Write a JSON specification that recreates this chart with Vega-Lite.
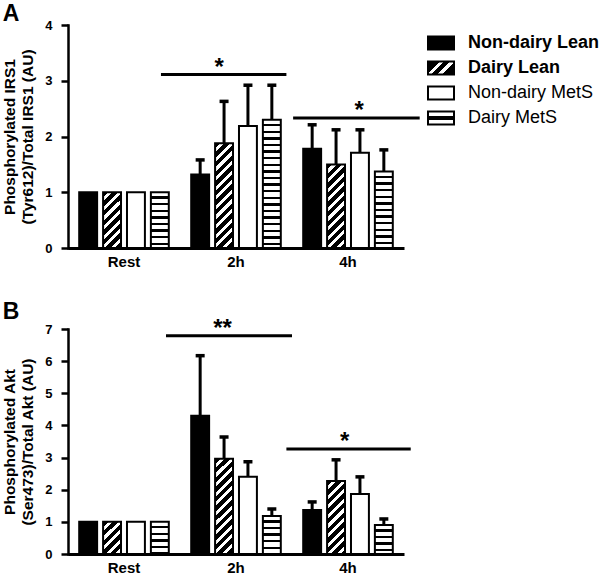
{
  "$schema": "https://vega.github.io/schema/vega-lite/v6.json",
  "padding": {"left": 2, "top": 3, "right": 0, "bottom": 0},
  "params": [
    {"name": "diagStops", "value": [
      {"offset":0,"color":"black"},{"offset":0.034,"color":"black"},{"offset":0.034,"color":"white"},{"offset":0.06,"color":"white"},
      {"offset":0.06,"color":"black"},{"offset":0.094,"color":"black"},{"offset":0.094,"color":"white"},{"offset":0.12,"color":"white"},
      {"offset":0.12,"color":"black"},{"offset":0.154,"color":"black"},{"offset":0.154,"color":"white"},{"offset":0.18,"color":"white"},
      {"offset":0.18,"color":"black"},{"offset":0.214,"color":"black"},{"offset":0.214,"color":"white"},{"offset":0.24,"color":"white"},
      {"offset":0.24,"color":"black"},{"offset":0.274,"color":"black"},{"offset":0.274,"color":"white"},{"offset":0.3,"color":"white"},
      {"offset":0.3,"color":"black"},{"offset":0.334,"color":"black"},{"offset":0.334,"color":"white"},{"offset":0.36,"color":"white"},
      {"offset":0.36,"color":"black"},{"offset":0.394,"color":"black"},{"offset":0.394,"color":"white"},{"offset":0.42,"color":"white"},
      {"offset":0.42,"color":"black"},{"offset":0.454,"color":"black"},{"offset":0.454,"color":"white"},{"offset":0.48,"color":"white"},
      {"offset":0.48,"color":"black"},{"offset":0.514,"color":"black"},{"offset":0.514,"color":"white"},{"offset":0.54,"color":"white"},
      {"offset":0.54,"color":"black"},{"offset":0.574,"color":"black"},{"offset":0.574,"color":"white"},{"offset":0.6,"color":"white"},
      {"offset":0.6,"color":"black"},{"offset":0.634,"color":"black"},{"offset":0.634,"color":"white"},{"offset":0.66,"color":"white"},
      {"offset":0.66,"color":"black"},{"offset":0.694,"color":"black"},{"offset":0.694,"color":"white"},{"offset":0.72,"color":"white"},
      {"offset":0.72,"color":"black"},{"offset":0.754,"color":"black"},{"offset":0.754,"color":"white"},{"offset":0.78,"color":"white"},
      {"offset":0.78,"color":"black"},{"offset":0.814,"color":"black"},{"offset":0.814,"color":"white"},{"offset":0.84,"color":"white"},
      {"offset":0.84,"color":"black"},{"offset":0.874,"color":"black"},{"offset":0.874,"color":"white"},{"offset":0.9,"color":"white"},
      {"offset":0.9,"color":"black"},{"offset":0.934,"color":"black"},{"offset":0.934,"color":"white"},{"offset":0.96,"color":"white"},
      {"offset":0.96,"color":"black"},{"offset":0.994,"color":"black"},{"offset":0.994,"color":"white"},{"offset":1,"color":"white"}
    ]},
    {"name": "horizStops", "value": [
      {"offset":0,"color":"white"},{"offset":0.032,"color":"white"},{"offset":0.032,"color":"black"},{"offset":0.05,"color":"black"},
      {"offset":0.05,"color":"white"},{"offset":0.082,"color":"white"},{"offset":0.082,"color":"black"},{"offset":0.1,"color":"black"},
      {"offset":0.1,"color":"white"},{"offset":0.132,"color":"white"},{"offset":0.132,"color":"black"},{"offset":0.15,"color":"black"},
      {"offset":0.15,"color":"white"},{"offset":0.182,"color":"white"},{"offset":0.182,"color":"black"},{"offset":0.2,"color":"black"},
      {"offset":0.2,"color":"white"},{"offset":0.232,"color":"white"},{"offset":0.232,"color":"black"},{"offset":0.25,"color":"black"},
      {"offset":0.25,"color":"white"},{"offset":0.282,"color":"white"},{"offset":0.282,"color":"black"},{"offset":0.3,"color":"black"},
      {"offset":0.3,"color":"white"},{"offset":0.332,"color":"white"},{"offset":0.332,"color":"black"},{"offset":0.35,"color":"black"},
      {"offset":0.35,"color":"white"},{"offset":0.382,"color":"white"},{"offset":0.382,"color":"black"},{"offset":0.4,"color":"black"},
      {"offset":0.4,"color":"white"},{"offset":0.432,"color":"white"},{"offset":0.432,"color":"black"},{"offset":0.45,"color":"black"},
      {"offset":0.45,"color":"white"},{"offset":0.482,"color":"white"},{"offset":0.482,"color":"black"},{"offset":0.5,"color":"black"},
      {"offset":0.5,"color":"white"},{"offset":0.532,"color":"white"},{"offset":0.532,"color":"black"},{"offset":0.55,"color":"black"},
      {"offset":0.55,"color":"white"},{"offset":0.582,"color":"white"},{"offset":0.582,"color":"black"},{"offset":0.6,"color":"black"},
      {"offset":0.6,"color":"white"},{"offset":0.632,"color":"white"},{"offset":0.632,"color":"black"},{"offset":0.65,"color":"black"},
      {"offset":0.65,"color":"white"},{"offset":0.682,"color":"white"},{"offset":0.682,"color":"black"},{"offset":0.7,"color":"black"},
      {"offset":0.7,"color":"white"},{"offset":0.732,"color":"white"},{"offset":0.732,"color":"black"},{"offset":0.75,"color":"black"},
      {"offset":0.75,"color":"white"},{"offset":0.782,"color":"white"},{"offset":0.782,"color":"black"},{"offset":0.8,"color":"black"},
      {"offset":0.8,"color":"white"},{"offset":0.832,"color":"white"},{"offset":0.832,"color":"black"},{"offset":0.85,"color":"black"},
      {"offset":0.85,"color":"white"},{"offset":0.882,"color":"white"},{"offset":0.882,"color":"black"},{"offset":0.9,"color":"black"},
      {"offset":0.9,"color":"white"},{"offset":0.932,"color":"white"},{"offset":0.932,"color":"black"},{"offset":0.95,"color":"black"},
      {"offset":0.95,"color":"white"},{"offset":0.982,"color":"white"},{"offset":0.982,"color":"black"},{"offset":1,"color":"black"}
    ]},
    {"name": "legDiag", "value": [
      {"offset":0,"color":"black"},{"offset":0.3,"color":"black"},{"offset":0.3,"color":"white"},{"offset":0.42,"color":"white"},
      {"offset":0.42,"color":"black"},{"offset":0.56,"color":"black"},{"offset":0.56,"color":"white"},{"offset":0.68,"color":"white"},
      {"offset":0.68,"color":"black"},{"offset":1,"color":"black"}
    ]},
    {"name": "legHoriz", "value": [
      {"offset":0,"color":"white"},{"offset":0.38,"color":"white"},{"offset":0.38,"color":"black"},{"offset":0.62,"color":"black"},
      {"offset":0.62,"color":"white"},{"offset":1,"color":"white"}
    ]}
  ],
  "datasets": {
    "irs1": [
      {"time":"Rest","group":"Non-dairy Lean","value":1.0,"upper":null},
      {"time":"Rest","group":"Dairy Lean","value":1.0,"upper":null},
      {"time":"Rest","group":"Non-dairy MetS","value":1.0,"upper":null},
      {"time":"Rest","group":"Dairy MetS","value":1.0,"upper":null},
      {"time":"2h","group":"Non-dairy Lean","value":1.32,"upper":1.58},
      {"time":"2h","group":"Dairy Lean","value":1.88,"upper":2.63},
      {"time":"2h","group":"Non-dairy MetS","value":2.19,"upper":2.92},
      {"time":"2h","group":"Dairy MetS","value":2.30,"upper":2.92},
      {"time":"4h","group":"Non-dairy Lean","value":1.78,"upper":2.21},
      {"time":"4h","group":"Dairy Lean","value":1.50,"upper":2.12},
      {"time":"4h","group":"Non-dairy MetS","value":1.71,"upper":2.12},
      {"time":"4h","group":"Dairy MetS","value":1.37,"upper":1.76}
    ],
    "akt": [
      {"time":"Rest","group":"Non-dairy Lean","value":1.0,"upper":null},
      {"time":"Rest","group":"Dairy Lean","value":1.0,"upper":null},
      {"time":"Rest","group":"Non-dairy MetS","value":1.0,"upper":null},
      {"time":"Rest","group":"Dairy MetS","value":1.0,"upper":null},
      {"time":"2h","group":"Non-dairy Lean","value":4.30,"upper":6.17},
      {"time":"2h","group":"Dairy Lean","value":2.96,"upper":3.64},
      {"time":"2h","group":"Non-dairy MetS","value":2.40,"upper":2.87},
      {"time":"2h","group":"Dairy MetS","value":1.18,"upper":1.40},
      {"time":"4h","group":"Non-dairy Lean","value":1.37,"upper":1.62},
      {"time":"4h","group":"Dairy Lean","value":2.27,"upper":2.93},
      {"time":"4h","group":"Non-dairy MetS","value":1.87,"upper":2.40},
      {"time":"4h","group":"Dairy MetS","value":0.90,"upper":1.09}
    ],
    "sigA": [
      {"x1":0.83,"x2":1.95,"xs":1.35,"y":3.11,"label":"*"},
      {"x1":2.01,"x2":3.14,"xs":2.60,"y":2.33,"label":"*"}
    ],
    "sigB": [
      {"x1":0.875,"x2":2.0,"xs":1.38,"y":6.79,"label":"**"},
      {"x1":1.95,"x2":3.06,"xs":2.47,"y":3.27,"label":"*"}
    ]
  },
  "spacing": 31,
  "vconcat": [
    {
      "title": {"text": "A", "anchor": "start", "frame": "bounds", "fontSize": 23, "fontWeight": "bold", "offset": -7, "color": "black"},
      "width": 336, "height": 223,
      "resolve": {"scale": {"x": "independent"}},
      "layer": [
        {
          "data": {"name": "irs1"},
          "encoding": {
            "x": {"field": "time", "type": "nominal", "title": null, "scale": {"domain": ["Rest","2h","4h"], "paddingInner": 0.2, "paddingOuter": 0.1}},
            "xOffset": {"field": "group", "type": "nominal", "scale": {"domain": ["Non-dairy Lean","Dairy Lean","Non-dairy MetS","Dairy MetS"], "paddingInner": 0.25, "paddingOuter": 0}},
            "y": {"field": "value", "type": "quantitative", "scale": {"domain": [0,4]}, "axis": {"title": ["Phosphorylated IRS1","(Tyr612)/Total IRS1 (AU)"], "values": [0,1,2,3,4]}}
          },
          "layer": [
            {
              "mark": {"type": "bar", "strokeWidth": 2},
              "encoding": {
                "stroke": {"field": "group", "type": "nominal",
                  "scale": {"domain": ["Non-dairy Lean","Dairy Lean","Non-dairy MetS","Dairy MetS"], "range": ["black","black","black","black"]},
                  "legend": {"title": null, "offset": 1,
                    "labelFontWeight": {"expr": "indexof(datum.label, 'Lean') >= 0 ? 'bold' : 'normal'"}}},
                "fill": {"value": {"expr": "(datum.group || datum.value) === 'Non-dairy Lean' ? 'black' : (datum.group || datum.value) === 'Non-dairy MetS' ? 'white' : (datum.group || datum.value) === 'Dairy Lean' ? (datum.group ? {gradient: 'linear', x1: 0, y1: 0, x2: 160 * 17.9 / (320.41 + pow(datum.value * 55.75, 2)), y2: 160 * datum.value * 55.75 / (320.41 + pow(datum.value * 55.75, 2)), stops: diagStops} : {gradient: 'linear', x1: 0, y1: 0, x2: 1.2, y2: 0.6, stops: legDiag}) : (datum.group ? {gradient: 'linear', x1: 0, y1: 0, x2: 0, y2: 132 / (datum.value * 55.75), stops: horizStops} : {gradient: 'linear', x1: 0, y1: 0, x2: 0, y2: 1, stops: legHoriz})"}}
              }
            },
            {
              "transform": [{"filter": "datum.upper != null"}],
              "mark": {"type": "rule", "strokeWidth": 3, "color": "black"},
              "encoding": {"y2": {"field": "upper"}}
            },
            {
              "transform": [{"filter": "datum.upper != null"}],
              "mark": {"type": "tick", "thickness": 3.5, "size": 9, "color": "black", "opacity": 1},
              "encoding": {"y": {"field": "upper", "type": "quantitative", "scale": {"domain": [0,4]}, "axis": {"title": ["Phosphorylated IRS1","(Tyr612)/Total IRS1 (AU)"], "values": [0,1,2,3,4]}}}
            }
          ]
        },
        {
          "data": {"name": "sigA"},
          "layer": [
            {
              "mark": {"type": "rule", "strokeWidth": 3, "color": "black"},
              "encoding": {
                "x": {"field": "x1", "type": "quantitative", "scale": {"domain": [0,3]}, "axis": null},
                "x2": {"field": "x2"},
                "y": {"field": "y", "type": "quantitative", "scale": {"domain": [0,4]}, "axis": {"title": ["Phosphorylated IRS1","(Tyr612)/Total IRS1 (AU)"], "values": [0,1,2,3,4]}}
              }
            },
            {
              "mark": {"type": "text", "fontSize": 24, "fontWeight": "bold", "baseline": "alphabetic", "dy": 0, "color": "black"},
              "encoding": {
                "x": {"field": "xs", "type": "quantitative", "scale": {"domain": [0,3]}, "axis": null},
                "y": {"field": "y", "type": "quantitative", "scale": {"domain": [0,4]}, "axis": {"title": ["Phosphorylated IRS1","(Tyr612)/Total IRS1 (AU)"], "values": [0,1,2,3,4]}},
                "text": {"field": "label"}
              }
            }
          ]
        }
      ]
    },
    {
      "title": {"text": "B", "anchor": "start", "frame": "bounds", "fontSize": 23, "fontWeight": "bold", "offset": -7, "color": "black"},
      "width": 336, "height": 225,
      "resolve": {"scale": {"x": "independent"}},
      "layer": [
        {
          "data": {"name": "akt"},
          "encoding": {
            "x": {"field": "time", "type": "nominal", "title": null, "scale": {"domain": ["Rest","2h","4h"], "paddingInner": 0.2, "paddingOuter": 0.1}},
            "xOffset": {"field": "group", "type": "nominal", "scale": {"domain": ["Non-dairy Lean","Dairy Lean","Non-dairy MetS","Dairy MetS"], "paddingInner": 0.25, "paddingOuter": 0}},
            "y": {"field": "value", "type": "quantitative", "scale": {"domain": [0,7]}, "axis": {"title": ["Phosphorylated Akt","(Ser473)/Total Akt (AU)"], "values": [0,1,2,3,4,5,6,7]}}
          },
          "layer": [
            {
              "mark": {"type": "bar", "strokeWidth": 2},
              "encoding": {
                "stroke": {"field": "group", "type": "nominal",
                  "scale": {"domain": ["Non-dairy Lean","Dairy Lean","Non-dairy MetS","Dairy MetS"], "range": ["black","black","black","black"]},
                  "legend": {"title": null, "offset": 10,
                    "labelFontWeight": {"expr": "indexof(datum.label, 'Lean') >= 0 ? 'bold' : 'normal'"}}},
                "fill": {"value": {"expr": "(datum.group || datum.value) === 'Non-dairy Lean' ? 'black' : (datum.group || datum.value) === 'Non-dairy MetS' ? 'white' : (datum.group || datum.value) === 'Dairy Lean' ? (datum.group ? {gradient: 'linear', x1: 0, y1: 0, x2: 160 * 17.9 / (320.41 + pow(datum.value * 32.14, 2)), y2: 160 * datum.value * 32.14 / (320.41 + pow(datum.value * 32.14, 2)), stops: diagStops} : {gradient: 'linear', x1: 0, y1: 0, x2: 1.2, y2: 0.6, stops: legDiag}) : (datum.group ? {gradient: 'linear', x1: 0, y1: 0, x2: 0, y2: 132 / (datum.value * 32.14), stops: horizStops} : {gradient: 'linear', x1: 0, y1: 0, x2: 0, y2: 1, stops: legHoriz})"}}
              }
            },
            {
              "transform": [{"filter": "datum.upper != null"}],
              "mark": {"type": "rule", "strokeWidth": 3, "color": "black"},
              "encoding": {"y2": {"field": "upper"}}
            },
            {
              "transform": [{"filter": "datum.upper != null"}],
              "mark": {"type": "tick", "thickness": 3.5, "size": 9, "color": "black", "opacity": 1},
              "encoding": {"y": {"field": "upper", "type": "quantitative", "scale": {"domain": [0,7]}, "axis": {"title": ["Phosphorylated Akt","(Ser473)/Total Akt (AU)"], "values": [0,1,2,3,4,5,6,7]}}}
            }
          ]
        },
        {
          "data": {"name": "sigB"},
          "layer": [
            {
              "mark": {"type": "rule", "strokeWidth": 3, "color": "black"},
              "encoding": {
                "x": {"field": "x1", "type": "quantitative", "scale": {"domain": [0,3]}, "axis": null},
                "x2": {"field": "x2"},
                "y": {"field": "y", "type": "quantitative", "scale": {"domain": [0,7]}, "axis": {"title": ["Phosphorylated Akt","(Ser473)/Total Akt (AU)"], "values": [0,1,2,3,4,5,6,7]}}
              }
            },
            {
              "mark": {"type": "text", "fontSize": 24, "fontWeight": "bold", "baseline": "alphabetic", "dy": 0, "color": "black"},
              "encoding": {
                "x": {"field": "xs", "type": "quantitative", "scale": {"domain": [0,3]}, "axis": null},
                "y": {"field": "y", "type": "quantitative", "scale": {"domain": [0,7]}, "axis": {"title": ["Phosphorylated Akt","(Ser473)/Total Akt (AU)"], "values": [0,1,2,3,4,5,6,7]}},
                "text": {"field": "label"}
              }
            }
          ]
        }
      ]
    }
  ],
  "config": {
    "view": {"stroke": null},
    "font": "Liberation Sans",
    "title": {"font": "Liberation Sans"},
    "text": {"font": "Liberation Sans"},
    "axisY": {"grid": false, "domainColor": "black", "domainWidth": 2.5, "domainCap": "square", "tickColor": "black", "tickWidth": 2.5, "tickSize": 7, "labelFontSize": 13, "labelFontWeight": "bold", "labelColor": "black", "labelPadding": 9, "titleFontSize": 15.5, "titleFontWeight": "bold", "titleColor": "black", "titleLineHeight": 18, "titlePadding": 9, "labelFont": "Liberation Sans", "titleFont": "Liberation Sans"},
    "axisX": {"grid": false, "domainColor": "black", "domainWidth": 3, "ticks": false, "labelFontSize": 15, "labelFontWeight": "bold", "labelColor": "black", "labelPadding": 6, "labelAngle": 0, "labelFont": "Liberation Sans"},
    "legend": {"orient": "right", "padding": 4, "symbolType": "M-1,-0.5H1V0.5H-1Z", "symbolSize": 676, "symbolStrokeWidth": 2, "labelFontSize": 18, "labelColor": "black", "labelOffset": 13, "rowPadding": -3, "labelLimit": 300, "labelFont": "Liberation Sans"}
  }
}
